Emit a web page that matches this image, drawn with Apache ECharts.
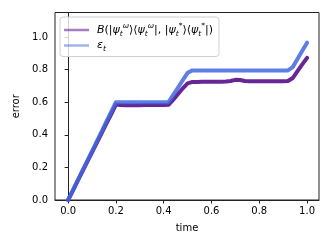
<!DOCTYPE html>
<html><head><meta charset="utf-8">
<script src="https://cdn.jsdelivr.net/npm/echarts@6/dist/echarts.min.js"></script>
<style>html,body{margin:0;padding:0;background:#fff}#c{width:332px;height:249px}</style>
</head><body><div id="c"></div>
<script>
const T = [0,0.02,0.04,0.06,0.08,0.10,0.12,0.14,0.16,0.18,0.20,0.22,0.24,0.26,0.28,0.30,0.32,0.34,0.36,0.38,0.40,0.42,0.44,0.46,0.48,0.50,0.52,0.54,0.56,0.58,0.60,0.62,0.64,0.66,0.68,0.70,0.72,0.74,0.76,0.78,0.80,0.82,0.84,0.86,0.88,0.90,0.92,0.94,0.96,0.98,1.0];
const B = [0,0.058,0.117,0.175,0.234,0.292,0.351,0.409,0.468,0.526,0.585,
  0.582,0.581,0.581,0.581,0.581,0.582,0.582,0.582,0.583,0.583,0.584,
  0.615,0.65,0.685,0.715,0.724,
  0.724,0.725,0.725,0.725,0.726,0.726,0.727,0.730,0.737,0.736,0.730,0.728,0.728,0.728,0.728,0.729,0.729,0.729,0.729,0.730,
  0.748,0.79,0.832,0.872];
const EPS = [0,0.06,0.12,0.18,0.24,0.30,0.36,0.42,0.48,0.54,0.60,
  0.60,0.60,0.60,0.60,0.60,0.60,0.60,0.60,0.60,0.60,0.60,
  0.645,0.69,0.735,0.78,0.795,
  0.795,0.795,0.795,0.795,0.795,0.795,0.795,0.795,0.795,0.795,0.795,0.795,0.795,0.795,0.795,0.795,0.795,0.795,0.795,0.795,
  0.815,0.865,0.915,0.965];
const xTicks = [0,0.2,0.4,0.6,0.8,1.0];
const yTicks = [0,0.2,0.4,0.6,0.8,1.0];
const xLabel = 'time', yLabel = 'error';
const nameB = 'B', nameE = 'eps';

const font = 'DejaVu Sans';
const chart = echarts.init(document.getElementById('c'), null, {renderer:'canvas'});
const axisCommon = {
  axisLine:{show:true, lineStyle:{color:'#222', width:1}},
  axisTick:{show:true, length:3.5, lineStyle:{color:'#222', width:1}},
  splitLine:{show:false},
  nameTextStyle:{fontFamily:font, fontSize:10, color:'#000'}
};
const rich = {
  n:{fontFamily:font, fontSize:11, color:'#000', lineHeight:16},
  i:{fontFamily:font, fontSize:11, fontStyle:'italic', color:'#000', lineHeight:16},
  sb:{fontFamily:font, fontSize:7.5, fontStyle:'italic', color:'#000', lineHeight:7.5, verticalAlign:'bottom'},
  sp:{fontFamily:font, fontSize:7.5, fontStyle:'italic', color:'#000', lineHeight:7.5, verticalAlign:'top'}
};
chart.setOption({
  animation:false,
  grid:{left:55, right:13, top:12.5, bottom:49, show:true, borderColor:'#222', borderWidth:1, containLabel:false},
  xAxis:Object.assign({}, axisCommon, {
    type:'value', min:-0.055, max:1.05, name:xLabel, nameLocation:'middle', nameGap:23,
    axisTick:Object.assign({}, axisCommon.axisTick, {customValues:xTicks}),
    axisLabel:{customValues:xTicks, margin:6, fontFamily:font, fontSize:10, color:'#000', formatter:v=>v.toFixed(1)}
  }),
  yAxis:Object.assign({}, axisCommon, {
    type:'value', min:0, max:1.15, name:yLabel, nameLocation:'middle', nameGap:31,
    axisTick:Object.assign({}, axisCommon.axisTick, {customValues:yTicks}),
    axisLabel:{customValues:yTicks, margin:7, fontFamily:font, fontSize:10, color:'#000', formatter:v=>v.toFixed(1)}
  }),
  legend:{
    orient:'vertical', left:60, top:17, padding:[5,6,3,4], itemGap:2,
    itemWidth:25, itemHeight:2.5, icon:'rect',
    borderColor:'#d0d0d0', borderWidth:1, borderRadius:3, backgroundColor:'rgba(255,255,255,0.8)',
    textStyle:{rich:rich, padding:[0,0,0,3]},
    data:[
      {name:nameB, itemStyle:{color:'rgba(75,0,130,0.5)'}},
      {name:nameE, itemStyle:{color:'rgba(65,105,225,0.5)'}}
    ],
    formatter:function(name){
      if(name===nameB){
        return '{i|B}{n|(|}{i|ψ}{sb|t}{sp|ω}{n|⟩⟨}{i|ψ}{sb|t}{sp|ω}{n||, |}{i|ψ}{sb|t}{sp|*}{n|⟩⟨}{i|ψ}{sb|t}{sp|*}{n||)}';
      }
      return '{i|ε}{sb|t}';
    }
  },
  series:[
    {name:nameB, type:'line', data:T.map((t,k)=>[t,B[k]]), showSymbol:false, symbol:'none',
     lineStyle:{color:'rgba(75,0,130,0.85)', width:4, cap:'round', join:'round'}, itemStyle:{color:'rgba(75,0,130,0.85)'}, z:2},
    {name:nameE, type:'line', data:T.map((t,k)=>[t,EPS[k]]), showSymbol:false, symbol:'none',
     lineStyle:{color:'rgba(65,105,225,0.85)', width:4, cap:'round', join:'round'}, itemStyle:{color:'rgba(65,105,225,0.85)'}, z:3}
  ]
});
</script></body></html>
